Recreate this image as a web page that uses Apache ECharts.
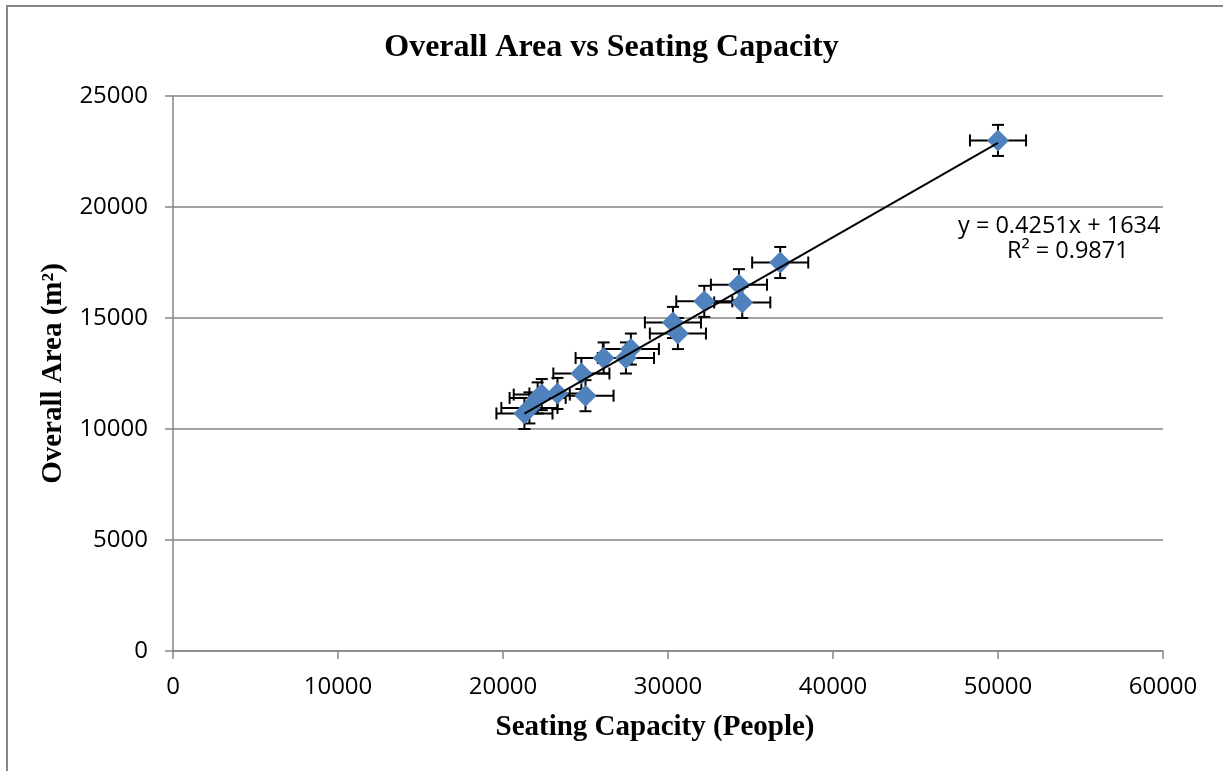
<!DOCTYPE html>
<html>
<head>
<meta charset="utf-8">
<script src="https://cdn.jsdelivr.net/npm/echarts@6/dist/echarts.min.js"></script>
<style>
html,body{margin:0;padding:0;background:#fff;}
#chart{width:1223px;height:771px;}
</style>
</head>
<body>
<div id="chart"></div>
<script>
// Data
var seatingCapacity = [50000, 36800, 34300, 34500, 32200, 30300, 30600, 27750, 27450, 26100, 24750, 25000, 23300, 22350, 22100, 21600, 21300];
var overallArea     = [23000, 17500, 16500, 15700, 15750, 14800, 14300, 13600, 13200, 13200, 12500, 11500, 11600, 11550, 11400, 10950, 10700];
var xError = 1700;   // +/- seating capacity error
var yError = 700;    // +/- area error
var trendSlope = 0.4251;
var trendIntercept = 1634;
var xTicks = [0, 10000, 20000, 30000, 40000, 50000, 60000];
var yTicks = [0, 5000, 10000, 15000, 20000, 25000];
var titleText = 'Overall Area vs Seating Capacity';
var xName = 'Seating Capacity (People)';
var yName = 'Overall Area (m\u00B2)';
var eqLine1 = 'y = 0.4251x + 1634';
var eqLine2 = 'R\u00B2 = 0.9871';

var points = seatingCapacity.map(function (x, i) { return [x, overallArea[i]]; });
var xMinData = Math.min.apply(null, seatingCapacity);
var xMaxData = Math.max.apply(null, seatingCapacity);
var trendData = [[xMinData, trendSlope * xMinData + trendIntercept], [xMaxData, trendSlope * xMaxData + trendIntercept]];

var chart = echarts.init(document.getElementById('chart'), null, {renderer: 'canvas'});
var serif = '"Liberation Serif", "Times New Roman", serif';
var sans = '"Open Sans", "Noto Sans", sans-serif';

var option = {
  animation: false,
  backgroundColor: '#ffffff',
  title: {
    text: titleText,
    left: 'center',
    top: 27,
    padding: [5, 0, 5, 10],
    textStyle: {fontFamily: serif, fontWeight: 'bold', fontSize: 32, color: '#000'}
  },
  grid: {left: 173, top: 96, right: 60, bottom: 120, containLabel: false},
  xAxis: {
    type: 'value',
    min: 0, max: 60000, interval: 10000,
    name: xName,
    nameLocation: 'middle',
    nameGap: 62,
    nameTextStyle: {fontFamily: serif, fontWeight: 'bold', fontSize: 29, color: '#000', padding: [0, 26, 0, 0]},
    axisLine: {show: true, lineStyle: {color: '#868686', width: 1.5}},
    axisTick: {show: true, inside: false, length: 8, lineStyle: {color: '#868686', width: 1.5}},
    axisLabel: {fontFamily: sans, fontSize: 24, color: '#000', margin: 24,
      formatter: function (v) { return xTicks.indexOf(v) >= 0 ? String(v) : ''; }},
    splitLine: {show: false}
  },
  yAxis: {
    type: 'value',
    min: 0, max: 25000, interval: 5000,
    name: yName,
    nameLocation: 'middle',
    nameGap: 100,
    nameRotate: 90,
    nameTextStyle: {fontFamily: serif, fontWeight: 'bold', fontSize: 29, color: '#000'},
    axisLine: {show: true, lineStyle: {color: '#868686', width: 1.5}},
    axisTick: {show: true, inside: false, length: 8, lineStyle: {color: '#868686', width: 1.5}},
    axisLabel: {fontFamily: sans, fontSize: 24, color: '#000', margin: 25,
      formatter: function (v) { return yTicks.indexOf(v) >= 0 ? String(v) : ''; }},
    splitLine: {show: true, lineStyle: {color: '#868686', width: 1.5}}
  },
  graphic: [
    {type: 'polyline', silent: true, z: 100,
      shape: {points: [[7, 800], [7, 6], [1230, 6]]},
      style: {stroke: '#868686', lineWidth: 2, fill: null}},
    {type: 'text', silent: true, z: 100, left: 958, top: 214,
      style: {text: eqLine1, font: '23.5px "Open Sans"', fill: '#000'}},
    {type: 'text', silent: true, z: 100, left: 1007, top: 239,
      style: {text: eqLine2, font: '23.5px "Open Sans"', fill: '#000'}}
  ],
  series: [
    {
      name: 'errors',
      type: 'custom',
      z: 3,
      data: points,
      renderItem: function (params, api) {
        var x = api.value(0), y = api.value(1);
        var c = api.coord([x, y]);
        var l = api.coord([x - xError, y]);
        var r = api.coord([x + xError, y]);
        var t = api.coord([x, y + yError]);
        var b = api.coord([x, y - yError]);
        var cap = 6;
        var st = {stroke: '#000', lineWidth: 2};
        return {
          type: 'group',
          children: [
            {type: 'line', shape: {x1: l[0], y1: c[1], x2: r[0], y2: c[1]}, style: st},
            {type: 'line', shape: {x1: l[0], y1: c[1] - cap, x2: l[0], y2: c[1] + cap}, style: st},
            {type: 'line', shape: {x1: r[0], y1: c[1] - cap, x2: r[0], y2: c[1] + cap}, style: st},
            {type: 'line', shape: {x1: c[0], y1: t[1], x2: c[0], y2: b[1]}, style: st},
            {type: 'line', shape: {x1: c[0] - cap, y1: t[1], x2: c[0] + cap, y2: t[1]}, style: st},
            {type: 'line', shape: {x1: c[0] - cap, y1: b[1], x2: c[0] + cap, y2: b[1]}, style: st}
          ]
        };
      }
    },
    {
      name: 'Overall Area',
      type: 'scatter',
      z: 4,
      data: points,
      symbol: 'diamond',
      symbolSize: [22, 22],
      itemStyle: {color: '#4F81BD', opacity: 1}
    },
    {
      name: 'Trend',
      type: 'line',
      z: 5,
      data: trendData,
      showSymbol: false,
      symbol: 'none',
      lineStyle: {color: '#000', width: 2}
    }
  ]
};
chart.setOption(option);
</script>
</body>
</html>
